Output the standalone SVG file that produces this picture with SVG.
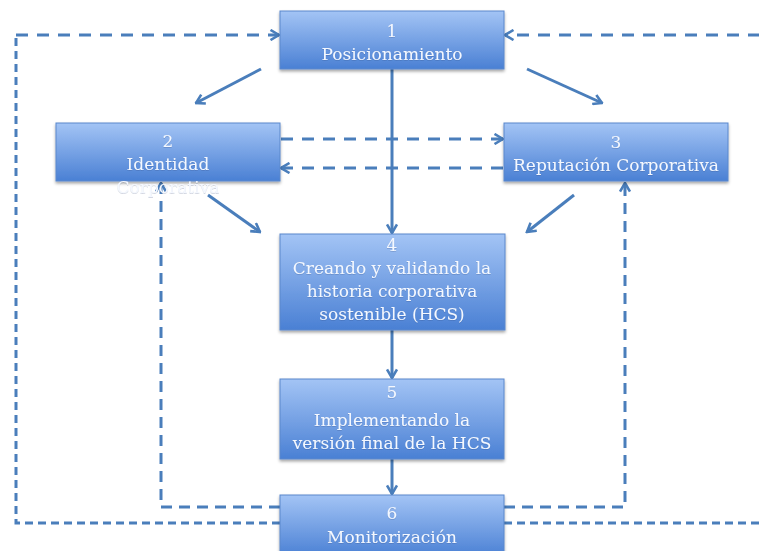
<svg xmlns="http://www.w3.org/2000/svg" width="759" height="551" viewBox="0 0 759 551">
  <defs>
    <linearGradient id="boxFill" x1="0" y1="0" x2="0" y2="1">
      <stop offset="0" stop-color="#a3c4f5"/>
      <stop offset="1" stop-color="#4a80d4"/>
    </linearGradient>
    <filter id="boxShadow" x="-10%" y="-10%" width="120%" height="130%">
      <feDropShadow dx="0" dy="2" stdDeviation="1.5" flood-color="#000" flood-opacity="0.35"/>
    </filter>
    <filter id="textShadow" x="-5%" y="-20%" width="110%" height="150%">
      <feDropShadow dx="0" dy="0.8" stdDeviation="0.7" flood-color="#1d3c70" flood-opacity="0.25"/>
    </filter>
    <marker id="arrow" viewBox="0 0 12 12" refX="10.5" refY="6" markerWidth="12" markerHeight="12" markerUnits="userSpaceOnUse" orient="auto">
      <path d="M2,1 L10.5,6 L2,11" fill="none" stroke="#4a7ebb" stroke-width="2.6" stroke-linejoin="miter"/>
    </marker>
  </defs>
  <style>
    .box { fill: url(#boxFill); stroke: #5a88cc; stroke-width: 1; filter: url(#boxShadow); }
    .label { font-family: "DejaVu Serif", "Liberation Serif", serif; font-size: 17px; fill: #f4f8ff; text-anchor: middle; filter: url(#textShadow); }
    .solid { fill: none; stroke: #4a7ebb; stroke-width: 3; }
    .dashA { fill: none; stroke: #4a7ebb; stroke-width: 3; stroke-dasharray: 12 9; }
    .dashB { fill: none; stroke: #4a7ebb; stroke-width: 3; stroke-dasharray: 8 5; }
    .dashC { fill: none; stroke: #4a7ebb; stroke-width: 3; stroke-dasharray: 11 7; }
  </style>

  <g id="connectors">
    <!-- outer feedback loop: 6 back to 1 -->
    <path class="dashB" d="M280,523 H16 V35"/>
    <path class="dashA" d="M16,35 H279" marker-end="url(#arrow)"/>
    <path class="dashB" d="M504,523 H760"/>
    <path class="dashA" d="M760,35 H505" marker-end="url(#arrow)"/>
    <!-- inner feedback loops: 6 back to 2 and 3 -->
    <path class="dashC" d="M280,507 H161 V183" marker-end="url(#arrow)"/>
    <path class="dashC" d="M504,507 H625 V183" marker-end="url(#arrow)"/>
    <!-- 2 <-> 3 -->
    <path class="dashA" d="M281,139 H503" marker-end="url(#arrow)"/>
    <path class="dashA" d="M503,168 H281" marker-end="url(#arrow)"/>
    <!-- main flow -->
    <path class="solid" d="M392,69 V233" marker-end="url(#arrow)"/>
    <path class="solid" d="M261,69 L196,103" marker-end="url(#arrow)"/>
    <path class="solid" d="M527,69 L602,103" marker-end="url(#arrow)"/>
    <path class="solid" d="M208,195 L260,232" marker-end="url(#arrow)"/>
    <path class="solid" d="M574,195 L527,232" marker-end="url(#arrow)"/>
    <path class="solid" d="M392,330 V378" marker-end="url(#arrow)"/>
    <path class="solid" d="M392,459 V494" marker-end="url(#arrow)"/>
  </g>

  <g id="node-1">
    <rect class="box" x="280" y="11" width="224" height="58"/>
    <text class="label" x="392" y="37">1</text>
    <text class="label" x="392" y="60">Posicionamiento</text>
  </g>
  <g id="node-2">
    <rect class="box" x="56" y="123" width="224" height="58"/>
    <text class="label" x="168" y="147">2</text>
    <text class="label" x="168" y="170">Identidad</text>
    <text class="label" x="168" y="193">Corporativa</text>
  </g>
  <g id="node-3">
    <rect class="box" x="504" y="123" width="224" height="58"/>
    <text class="label" x="616" y="148">3</text>
    <text class="label" x="616" y="171">Reputación Corporativa</text>
  </g>
  <g id="node-4">
    <rect class="box" x="280" y="234" width="225" height="96"/>
    <text class="label" x="392" y="251">4</text>
    <text class="label" x="392" y="274">Creando y validando la</text>
    <text class="label" x="392" y="297">historia corporativa</text>
    <text class="label" x="392" y="320">sostenible (HCS)</text>
  </g>
  <g id="node-5">
    <rect class="box" x="280" y="379" width="224" height="80"/>
    <text class="label" x="392" y="398">5</text>
    <text class="label" x="392" y="426">Implementando la</text>
    <text class="label" x="392" y="449">versión final de la HCS</text>
  </g>
  <g id="node-6">
    <rect class="box" x="280" y="495" width="224" height="62"/>
    <text class="label" x="392" y="519">6</text>
    <text class="label" x="392" y="543">Monitorización</text>
  </g>
</svg>
